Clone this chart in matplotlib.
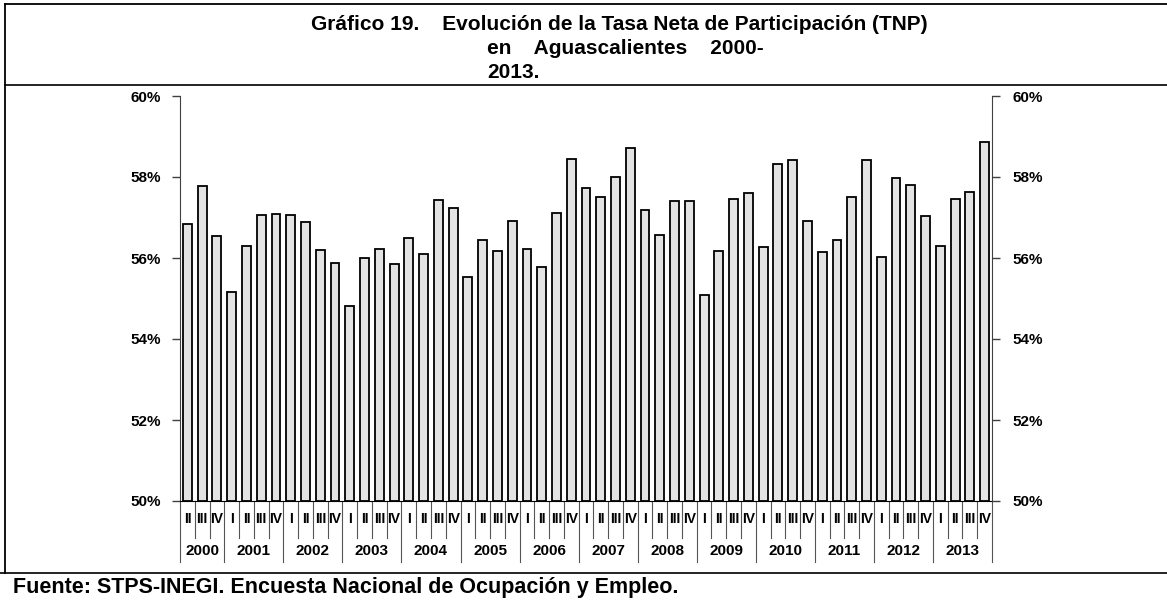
import matplotlib
matplotlib.use("Agg")
import matplotlib.pyplot as plt
from matplotlib.lines import Line2D
from matplotlib.transforms import blended_transform_factory

plt.rcParams["font.family"] = ["Liberation Sans", "DejaVu Sans"]

# data: TNP por trimestre, 2000-II a 2013-IV (%)
years = ["2000", "2001", "2002", "2003", "2004", "2005", "2006",
         "2007", "2008", "2009", "2010", "2011", "2012", "2013"]
quarters_per_year = [3, 4, 4, 4, 4, 4, 4, 4, 4, 4, 4, 4, 4, 4]
quarter_names = ["I", "II", "III", "IV"]
tnp = [56.84, 57.78, 56.55,
       55.16, 56.30, 57.05, 57.09,
       57.07, 56.89, 56.20, 55.88,
       54.81, 56.00, 56.22, 55.84,
       56.50, 56.09, 57.43, 57.23,
       55.54, 56.45, 56.18, 56.91,
       56.22, 55.79, 57.11, 58.45,
       57.73, 57.50, 58.00, 58.72,
       57.18, 56.56, 57.41, 57.41,
       55.08, 56.17, 57.46, 57.60,
       56.27, 58.32, 58.43, 56.91,
       56.16, 56.44, 57.50, 58.43,
       56.02, 57.98, 57.81, 57.04,
       56.30, 57.46, 57.63, 58.86]
yticks = [50, 52, 54, 56, 58, 60]

W, H = 1167, 601
fig = plt.figure(figsize=(W / 100, H / 100), dpi=100)


def fx(px):
    return px / W


def fy(py):
    return 1 - py / H


ax = fig.add_axes([fx(180), fy(501), (992 - 180) / W, (501 - 96) / H])
x = list(range(len(tnp)))
ax.bar(x, [v - 50 for v in tnp], bottom=50, width=0.6,
       color="#e3e3e3", edgecolor="black", linewidth=1.3, zorder=3)
ax.set_xlim(-0.5, len(tnp) - 0.5)
ax.set_ylim(50, 60)
ax.set_yticks(yticks)
ax.set_yticklabels([f"{t}%" for t in yticks])
ax.set_xticks([])
ax.spines["top"].set_visible(False)
ax.spines["right"].set_visible(False)
ax.spines["left"].set_color("#404040")
ax.spines["bottom"].set_color("black")
ax.tick_params(axis="y", direction="out", length=6, width=1, pad=8,
               labelsize=11, colors="#404040", labelcolor="black")

ax2 = ax.twinx()
ax2.set_ylim(50, 60)
ax2.set_yticks(yticks)
ax2.set_yticklabels([f"{t}%" for t in yticks])
for s in ("top", "left", "bottom"):
    ax2.spines[s].set_visible(False)
ax2.spines["right"].set_color("#404040")
ax2.tick_params(axis="y", direction="out", length=6, width=1, pad=9,
                labelsize=11, colors="#404040", labelcolor="black")
for lab in ax.get_yticklabels() + ax2.get_yticklabels():
    lab.set_fontweight("bold")

# category axis: quarters and years
tr = blended_transform_factory(ax.transData, ax.transAxes)
year_edges = [-0.5]
for n in quarters_per_year:
    year_edges.append(year_edges[-1] + n)
for b in range(len(tnp) + 1):
    edge = b - 0.5
    y_end = -0.151 if edge in year_edges else -0.091
    ax.add_line(Line2D([edge, edge], [0, y_end], transform=tr, color="#555555",
                       lw=0.8, clip_on=False))
i = 0
for yr, n in zip(years, quarters_per_year):
    names = quarter_names[4 - n:]
    for q in names:
        ax.text(i, -0.045, q, transform=tr, ha="center", va="center",
                fontsize=10, fontweight="bold")
        i += 1
    ax.text(i - n / 2 - 0.5, -0.123, yr, transform=tr, ha="center", va="center",
            fontsize=11, fontweight="bold")

# frame lines
for (x0, x1, y0, y1, lw) in [(5, W, 4, 4, 1.3), (5, 5, 4, 573, 1.3),
                             (5, W, 85, 85, 1.2), (0, W, 573, 573, 1.2)]:
    fig.add_artist(Line2D([fx(x0), fx(x1)], [fy(y0), fy(y1)], color="black",
                          lw=lw, transform=fig.transFigure))

# title
fig.text(fx(311), fy(25), "Gráfico 19.    Evolución de la Tasa Neta de Participación (TNP)",
         ha="left", va="center", fontsize=15, fontweight="bold")
fig.text(fx(487), fy(49), "en    Aguascalientes    2000-",
         ha="left", va="center", fontsize=15, fontweight="bold")
fig.text(fx(487), fy(72), "2013.", ha="left", va="center", fontsize=15, fontweight="bold")

fig.text(fx(13), fy(588), "Fuente: STPS-INEGI. Encuesta Nacional de Ocupación y Empleo.",
         ha="left", va="center", fontsize=15.5, fontweight="bold")

fig.savefig("out.png", dpi=100)
